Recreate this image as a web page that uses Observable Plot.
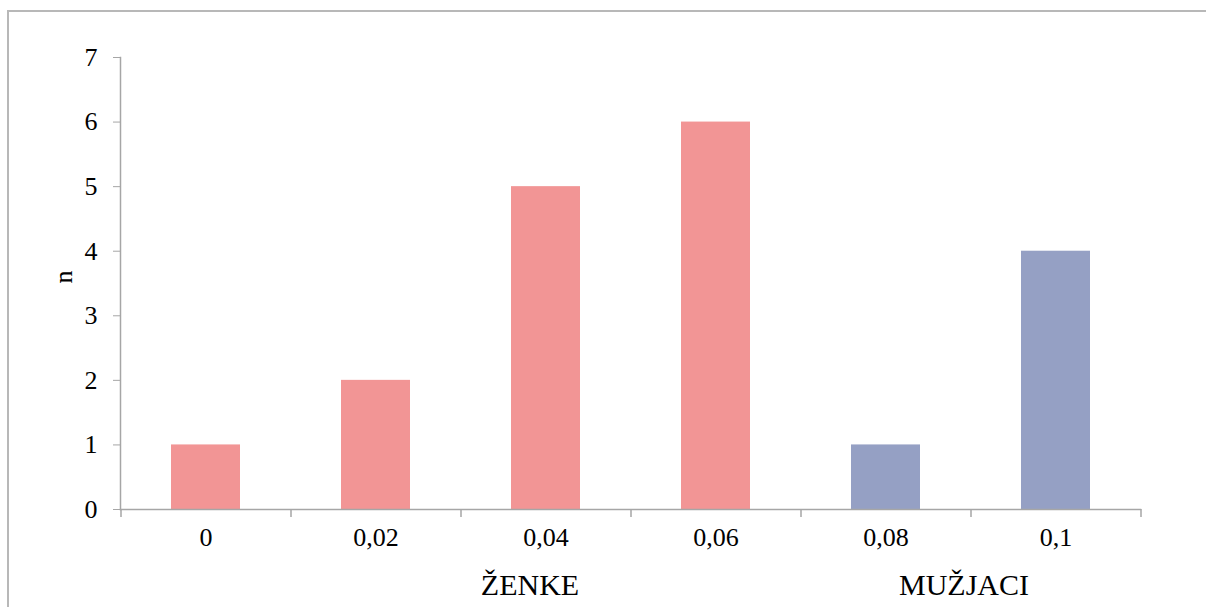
<!DOCTYPE html>
<html>
<head>
<meta charset="utf-8">
<script src="https://cdn.jsdelivr.net/npm/d3@7"></script>
<script src="https://cdn.jsdelivr.net/npm/@observablehq/plot@0.6"></script>
<style>
  html, body { margin: 0; padding: 0; background: #fff; }
  #wrap { position: relative; width: 1206px; height: 607px; overflow: hidden; }
  #border { position: absolute; left: 7px; top: 10px; width: 1300px; height: 700px;
            border-left: 2px solid #b8b8b8; border-top: 2px solid #b8b8b8; box-sizing: border-box; }
  #chart { position: absolute; left: 0; top: 0; }
</style>
</head>
<body>
<div id="wrap"><div id="border"></div><div id="chart"></div></div>
<script>
const categories = ["0", "0,02", "0,04", "0,06", "0,08", "0,1"];
const counts = [1, 2, 5, 6, 1, 4];
const groups = ["ŽENKE", "ŽENKE", "ŽENKE", "ŽENKE", "MUŽJACI", "MUŽJACI"];
const yTicks = [0, 1, 2, 3, 4, 5, 6, 7];
const groupLabels = ["ŽENKE", "MUŽJACI"];
const groupAnchor = ["0,04", "0,08"];
const groupColors = {"ŽENKE": "#f29595", "MUŽJACI": "#95a0c4"};

const data = categories.map((c, i) => ({cat: c, n: counts[i], group: groups[i]}));
const labelData = groupLabels.map((g, i) => ({label: g, cat: groupAnchor[i]}));
const axisColor = "#a6a6a6";
const font = "'Liberation Serif', 'Times New Roman', serif";

const plot = Plot.plot({
  width: 1206,
  height: 607,
  marginLeft: 120,
  marginRight: 66,
  marginTop: 57,
  marginBottom: 98,
  style: {fontFamily: font, background: "transparent", color: "#000"},
  x: {domain: categories, paddingInner: 0.595, paddingOuter: 0.2975, label: null},
  y: {domain: [0, 7], label: null},
  marks: [
    Plot.barY(data, {x: "cat", y: "n", fill: d => groupColors[d.group]}),
    Plot.axisY({ticks: yTicks, tickSize: 7, tickPadding: 16, stroke: axisColor, fontSize: 26, label: null, tickFormat: d => String(d)}),
    Plot.axisX({tickSize: 0, tickPadding: 18, fontSize: 26, label: null}),
    Plot.frame({anchor: "left", stroke: axisColor, strokeWidth: 1.5}),
    Plot.frame({anchor: "bottom", stroke: axisColor, strokeWidth: 1.5}),
    Plot.ruleX(categories, {x: d => d, dx: -85, y1: 0, y2: 0, insetBottom: -8, stroke: axisColor, strokeWidth: 1.5}),
    Plot.ruleX([categories[categories.length - 1]], {x: d => d, dx: 85, y1: 0, y2: 0, insetBottom: -8, stroke: axisColor, strokeWidth: 1.5}),
    Plot.text(labelData.slice(0, 1), {x: "cat", y: 0, text: "label", dx: -16, dy: 76, fontSize: 30, fill: "#000"}),
    Plot.text(labelData.slice(1), {x: "cat", y: 0, text: "label", dx: 78, dy: 76, fontSize: 30, fill: "#000"}),
    Plot.text(["n"], {frameAnchor: "left", text: d => d, dx: -57, rotate: -90, fontSize: 26, fontWeight: "normal", fill: "#000"})
  ]
});
document.getElementById("chart").appendChild(plot);
</script>
</body>
</html>
